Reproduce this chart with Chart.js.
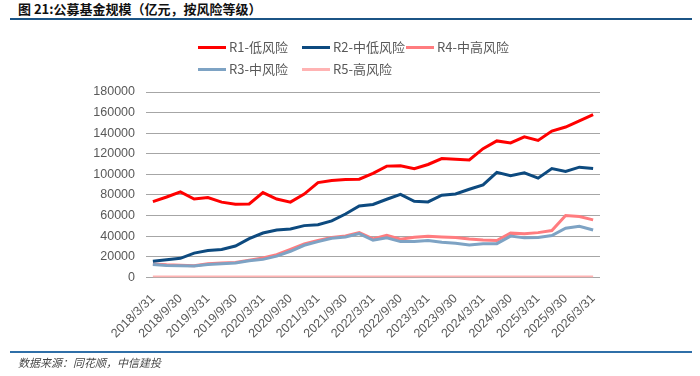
<!DOCTYPE html>
<html><head><meta charset="utf-8">
<script src="https://cdn.jsdelivr.net/npm/chart.js@4/dist/chart.umd.min.js"></script>
<style>
body{margin:0;width:700px;height:376px;position:relative;background:#fff;overflow:hidden;font-family:"Noto Sans CJK SC",sans-serif;}
#c{position:absolute;left:0;top:0;}
.title{position:absolute;left:18px;top:0px;font-size:13px;line-height:18px;font-weight:bold;color:#111;}
.tl{position:absolute;left:10px;top:18px;width:682px;height:2px;background:#1b5485;}
.bl{position:absolute;left:10px;top:351px;width:682px;height:2px;background:#2f6fa8;}
.src{position:absolute;left:18px;top:354px;font-size:11px;line-height:16px;font-style:italic;color:#444;}
.lg{position:absolute;font-size:13px;color:#595959;display:flex;align-items:center;white-space:nowrap;line-height:16px;height:16px;}
.lg i{display:inline-block;width:28px;height:3px;margin-right:3px;}
</style></head>
<body>
<div class="title">图 21:公募基金规模（亿元，按风险等级）</div>
<div class="tl"></div>
<canvas id="c" width="700" height="376"></canvas>
<div id="legend"></div>
<div class="bl"></div>
<div class="src">数据来源：同花顺，中信建投</div>
<script>
const quarters = ["2018/3/31","2018/6/30","2018/9/30","2018/12/31","2019/3/31","2019/6/30","2019/9/30","2019/12/31",
"2020/3/31","2020/6/30","2020/9/30","2020/12/31","2021/3/31","2021/6/30","2021/9/30","2021/12/31",
"2022/3/31","2022/6/30","2022/9/30","2022/12/31","2023/3/31","2023/6/30","2023/9/30","2023/12/31",
"2024/3/31","2024/6/30","2024/9/30","2024/12/31","2025/3/31","2025/6/30","2025/9/30","2025/12/31","2026/3/31"];
const seriesNames = ["R1-低风险","R2-中低风险","R3-中风险","R4-中高风险","R5-高风险"];
const r1 = [73500,78000,83000,76000,77500,73000,71000,71300,82300,76000,73000,80800,92000,94000,95000,95300,101000,108000,108300,105400,109600,115400,114700,114000,125000,132500,130500,136400,133000,142000,146000,152000,158000];
const r2 = [15500,17000,18400,23500,26000,27000,30400,37500,43000,46000,47000,50200,51000,54800,61500,69300,70800,75800,80600,73800,73200,79700,81000,85500,89800,102000,98600,101500,96300,105700,102800,107000,105700];
const r3 = [12500,11500,11200,10900,12500,13200,13800,16000,17400,20600,25300,31100,34700,38000,39200,42500,36000,38300,34700,34700,35700,34000,33000,31500,32700,32700,40000,38300,38600,40500,47700,49600,46000];
const r4 = [13000,12200,11800,11200,13200,13800,14500,16700,18700,22000,27200,32400,35700,38600,40200,43400,37300,40800,37000,39000,39900,39200,38600,37300,36300,35700,42900,42200,43400,45400,60000,59000,55800];
const r5 = [300,300,300,300,300,300,300,300,300,300,300,300,300,300,300,300,300,300,300,300,300,300,300,300,300,300,300,300,300,300,300,300,300];
const colors = ["#ff0000","#0d4a7f","#7ea3c4","#ff7c7f","#ffb3b3"];

// HTML legend (order & placement as in reference)
const legendItems = [[0,198,39],[1,302,39],[3,406,39],[2,198,61],[4,302,61]];
const lg = document.getElementById('legend');
legendItems.forEach(([k,x,y])=>{
  const d=document.createElement('div');d.className='lg';d.style.left=x+'px';d.style.top=y+'px';
  d.innerHTML='<i style="background:'+colors[k]+'"></i>'+seriesNames[k];lg.appendChild(d);
});

const all=[r1,r2,r3,r4,r5];
const tickFont={family:"Liberation Sans, Arial, sans-serif",size:12.5};
new Chart(document.getElementById('c'),{
  type:'line',
  data:{labels:quarters,datasets:all.map((d,k)=>({label:seriesNames[k],data:d,borderColor:colors[k],backgroundColor:colors[k],borderWidth:3,pointRadius:0,tension:0,fill:false}))},
  options:{
    responsive:false,animation:false,
    layout:{padding:{top:92,right:100,left:0,bottom:0}},
    plugins:{legend:{display:false},tooltip:{enabled:false}},
    scales:{
      x:{offset:true,grid:{display:false},border:{display:false},
         ticks:{autoSkip:false,maxRotation:45,minRotation:45,padding:6,color:'#595959',font:tickFont,
           callback:(v,i)=> i%2===0 ? quarters[i] : ''},
         afterFit:s=>{s.height=98.7;}},
      y:{min:0,max:180000,
         ticks:{stepSize:20000,padding:11,color:'#595959',font:tickFont,callback:v=>String(v)},
         grid:{color:'#a6a6a6',drawTicks:false,lineWidth:1},border:{display:false},
         afterFit:s=>{s.width=146;}}
    }
  }
});
</script>
</body></html>
